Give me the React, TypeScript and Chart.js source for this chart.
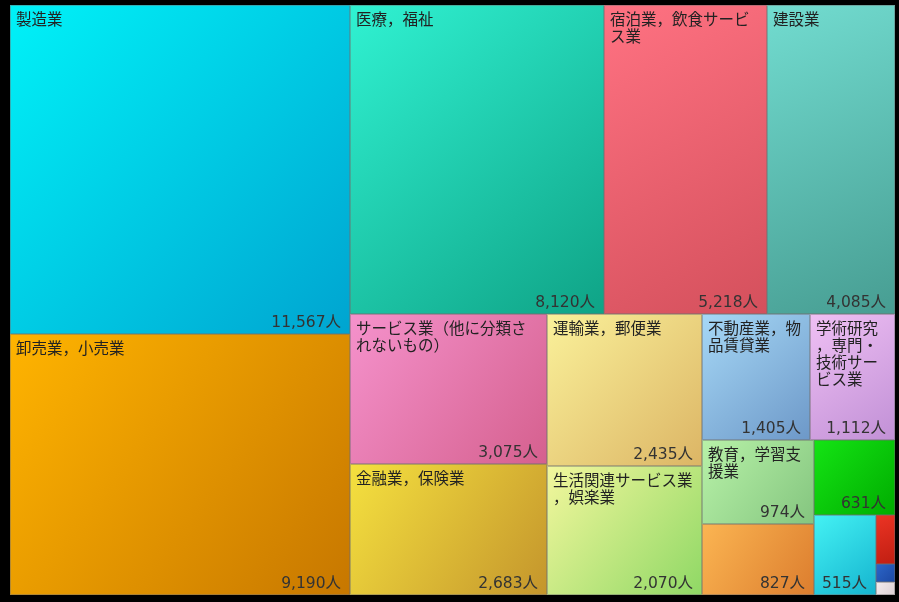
import React, { useEffect, useRef } from "react";
import { Chart, registerables } from "chart.js";

Chart.register(...registerables);

// ---- data ----
const categories: string[] = [
  "製造業",
  "卸売業，小売業",
  "医療，福祉",
  "宿泊業，飲食サービス業",
  "建設業",
  "サービス業（他に分類されないもの）",
  "金融業，保険業",
  "運輸業，郵便業",
  "生活関連サービス業，娯楽業",
  "不動産業，物品賃貸業",
  "学術研究，専門・技術サービス業",
  "教育，学習支援業",
  "公務（他に分類されるものを除く）",
  "複合サービス事業",
  "電気・ガス・熱供給・水道業",
  "情報通信業",
  "農業，林業",
  "鉱業，採石業，砂利採取業",
];
const employees: number[] = [
  11567, 9190, 8120, 5218, 4085, 3075, 2683, 2435, 2070, 1405, 1112, 974, 827, 631, 515, 93, 35, 25,
];
const unitLabel = "人";
const colorsLight: string[] = [
  "#00f2f8", "#ffb400", "#30f2d2", "#ff7282", "#72dcd0", "#f592cc", "#f5e13f", "#faf19a", "#f3f79d",
  "#a6d8f6", "#efc0f4", "#b8f2a8", "#fbb552", "#14e414", "#44f2f4", "#ec3424", "#2c66c8", "#f4ecee",
];
const colorsDark: string[] = [
  "#00a4d0", "#c77700", "#0fa386", "#d4505c", "#479d92", "#d5608e", "#c4952c", "#dcb565", "#8fd865",
  "#6d98c8", "#c190d6", "#84c57f", "#dc7d2e", "#00ac00", "#15b4cf", "#c01e12", "#1c48a4", "#dcd0d4",
];

type Cell = { i: number; x0: number; y0: number; x1: number; y1: number };

// squarified layout (golden-ratio target), in data space
function squarify(values: number[], x0: number, y0: number, x1: number, y1: number): Cell[] {
  const ratio = (1 + Math.sqrt(5)) / 2;
  const out: Cell[] = [];
  const n = values.length;
  let value = values.reduce((a, b) => a + b, 0);
  let i0 = 0;
  let i1 = 0;
  while (i0 < n) {
    const dx = x1 - x0;
    const dy = y1 - y0;
    let sumValue = values[i1++];
    let minValue = sumValue;
    let maxValue = sumValue;
    const alpha = Math.max(dy / dx, dx / dy) / (value * ratio);
    let beta = sumValue * sumValue * alpha;
    let minRatio = Math.max(maxValue / beta, beta / minValue);
    for (; i1 < n; ++i1) {
      const nv = values[i1];
      sumValue += nv;
      if (nv < minValue) minValue = nv;
      if (nv > maxValue) maxValue = nv;
      beta = sumValue * sumValue * alpha;
      const newRatio = Math.max(maxValue / beta, beta / minValue);
      if (newRatio > minRatio) {
        sumValue -= nv;
        break;
      }
      minRatio = newRatio;
    }
    if (dx < dy) {
      const ny = i1 < n ? y0 + (dy * sumValue) / value : y1;
      let x = x0;
      for (let k = i0; k < i1; k++) {
        const w = ((x1 - x0) * values[k]) / sumValue;
        out.push({ i: k, x0: x, y0: y0, x1: x + w, y1: ny });
        x += w;
      }
      y0 = ny;
    } else {
      const nx = i1 < n ? x0 + (dx * sumValue) / value : x1;
      let y = y0;
      for (let k = i0; k < i1; k++) {
        const h = ((y1 - y0) * values[k]) / sumValue;
        out.push({ i: k, x0: x0, y0: y, x1: nx, y1: y + h });
        y += h;
      }
      x0 = nx;
    }
    value -= sumValue;
    i0 = i1;
  }
  return out;
}

function wrapChars(ctx: CanvasRenderingContext2D, text: string, maxW: number): string[] {
  const lines: string[] = [];
  let cur = "";
  for (const ch of Array.from(text)) {
    const t = cur + ch;
    if (cur && ctx.measureText(t).width > maxW) {
      lines.push(cur);
      cur = ch;
    } else cur = t;
  }
  if (cur) lines.push(cur);
  return lines;
}

const LABEL_FONT = '15.5px "Noto Sans CJK JP", "Noto Sans", sans-serif';
const VALUE_FONT = '15.5px "DejaVu Sans", "Noto Sans CJK JP", sans-serif';

const treemapPlugin = {
  id: "treemapCells",
  beforeDatasetsDraw(chart: any) {
    const { ctx, chartArea, scales } = chart;
    const xs = scales.x;
    const ys = scales.y;
    const aspect = chartArea.width / chartArea.height;
    const order = employees.map((_, i) => i).sort((a, b) => employees[b] - employees[a]);
    const vals = order.map((i) => employees[i]);
    const cells = squarify(vals, 0, 0, aspect, 1);
    ctx.save();
    for (const c of cells) {
      const idx = order[c.i];
      const L = Math.round(xs.getPixelForValue(c.x0 / aspect));
      const R = Math.round(xs.getPixelForValue(c.x1 / aspect));
      const T = Math.round(ys.getPixelForValue(c.y0));
      const B = Math.round(ys.getPixelForValue(c.y1));
      const w = R - L;
      const h = B - T;
      const g = ctx.createLinearGradient(L, T, R, B);
      g.addColorStop(0, colorsLight[idx]);
      g.addColorStop(1, colorsDark[idx]);
      ctx.fillStyle = g;
      ctx.fillRect(L, T, w, h);
      ctx.strokeStyle = "rgba(110,110,110,0.45)";
      ctx.lineWidth = 1;
      ctx.strokeRect(L + 0.5, T + 0.5, w - 1, h - 1);

      // category label
      if (w * h >= 8500) {
        ctx.font = LABEL_FONT;
        ctx.fillStyle = "#222";
        ctx.textAlign = "left";
        ctx.textBaseline = "top";
        const lines = wrapChars(ctx, categories[idx], w - 14);
        lines.forEach((ln, k) => ctx.fillText(ln, L + 6, T + 6 + k * 17));
      }
      // value label
      if (w >= 45 && h >= 30) {
        ctx.font = VALUE_FONT;
        ctx.fillStyle = "#333";
        ctx.textAlign = "right";
        ctx.textBaseline = "alphabetic";
        ctx.fillText(employees[idx].toLocaleString("en-US") + unitLabel, R - 9, B - 7);
      }
    }
    ctx.restore();
  },
};

export default function App() {
  const ref = useRef<HTMLCanvasElement | null>(null);
  useEffect(() => {
    if (!ref.current) return;
    const chart = new Chart(ref.current, {
      type: "scatter",
      data: { datasets: [{ label: "従業者数", data: [], pointRadius: 0 }] },
      options: {
        animation: false,
        responsive: false,
        layout: { padding: { left: 10, right: 4, top: 5, bottom: 7 } },
        scales: {
          x: { type: "linear", min: 0, max: 1, display: false },
          y: { type: "linear", min: 0, max: 1, reverse: true, display: false },
        },
        plugins: { legend: { display: false }, tooltip: { enabled: false } },
      },
      plugins: [treemapPlugin],
    });
    return () => chart.destroy();
  }, []);
  return (
    <div style={{ position: "fixed", left: 0, top: 0, width: 899, height: 602, background: "#000" }}>
      <canvas ref={ref} width={899} height={602} style={{ display: "block" }} />
    </div>
  );
}
